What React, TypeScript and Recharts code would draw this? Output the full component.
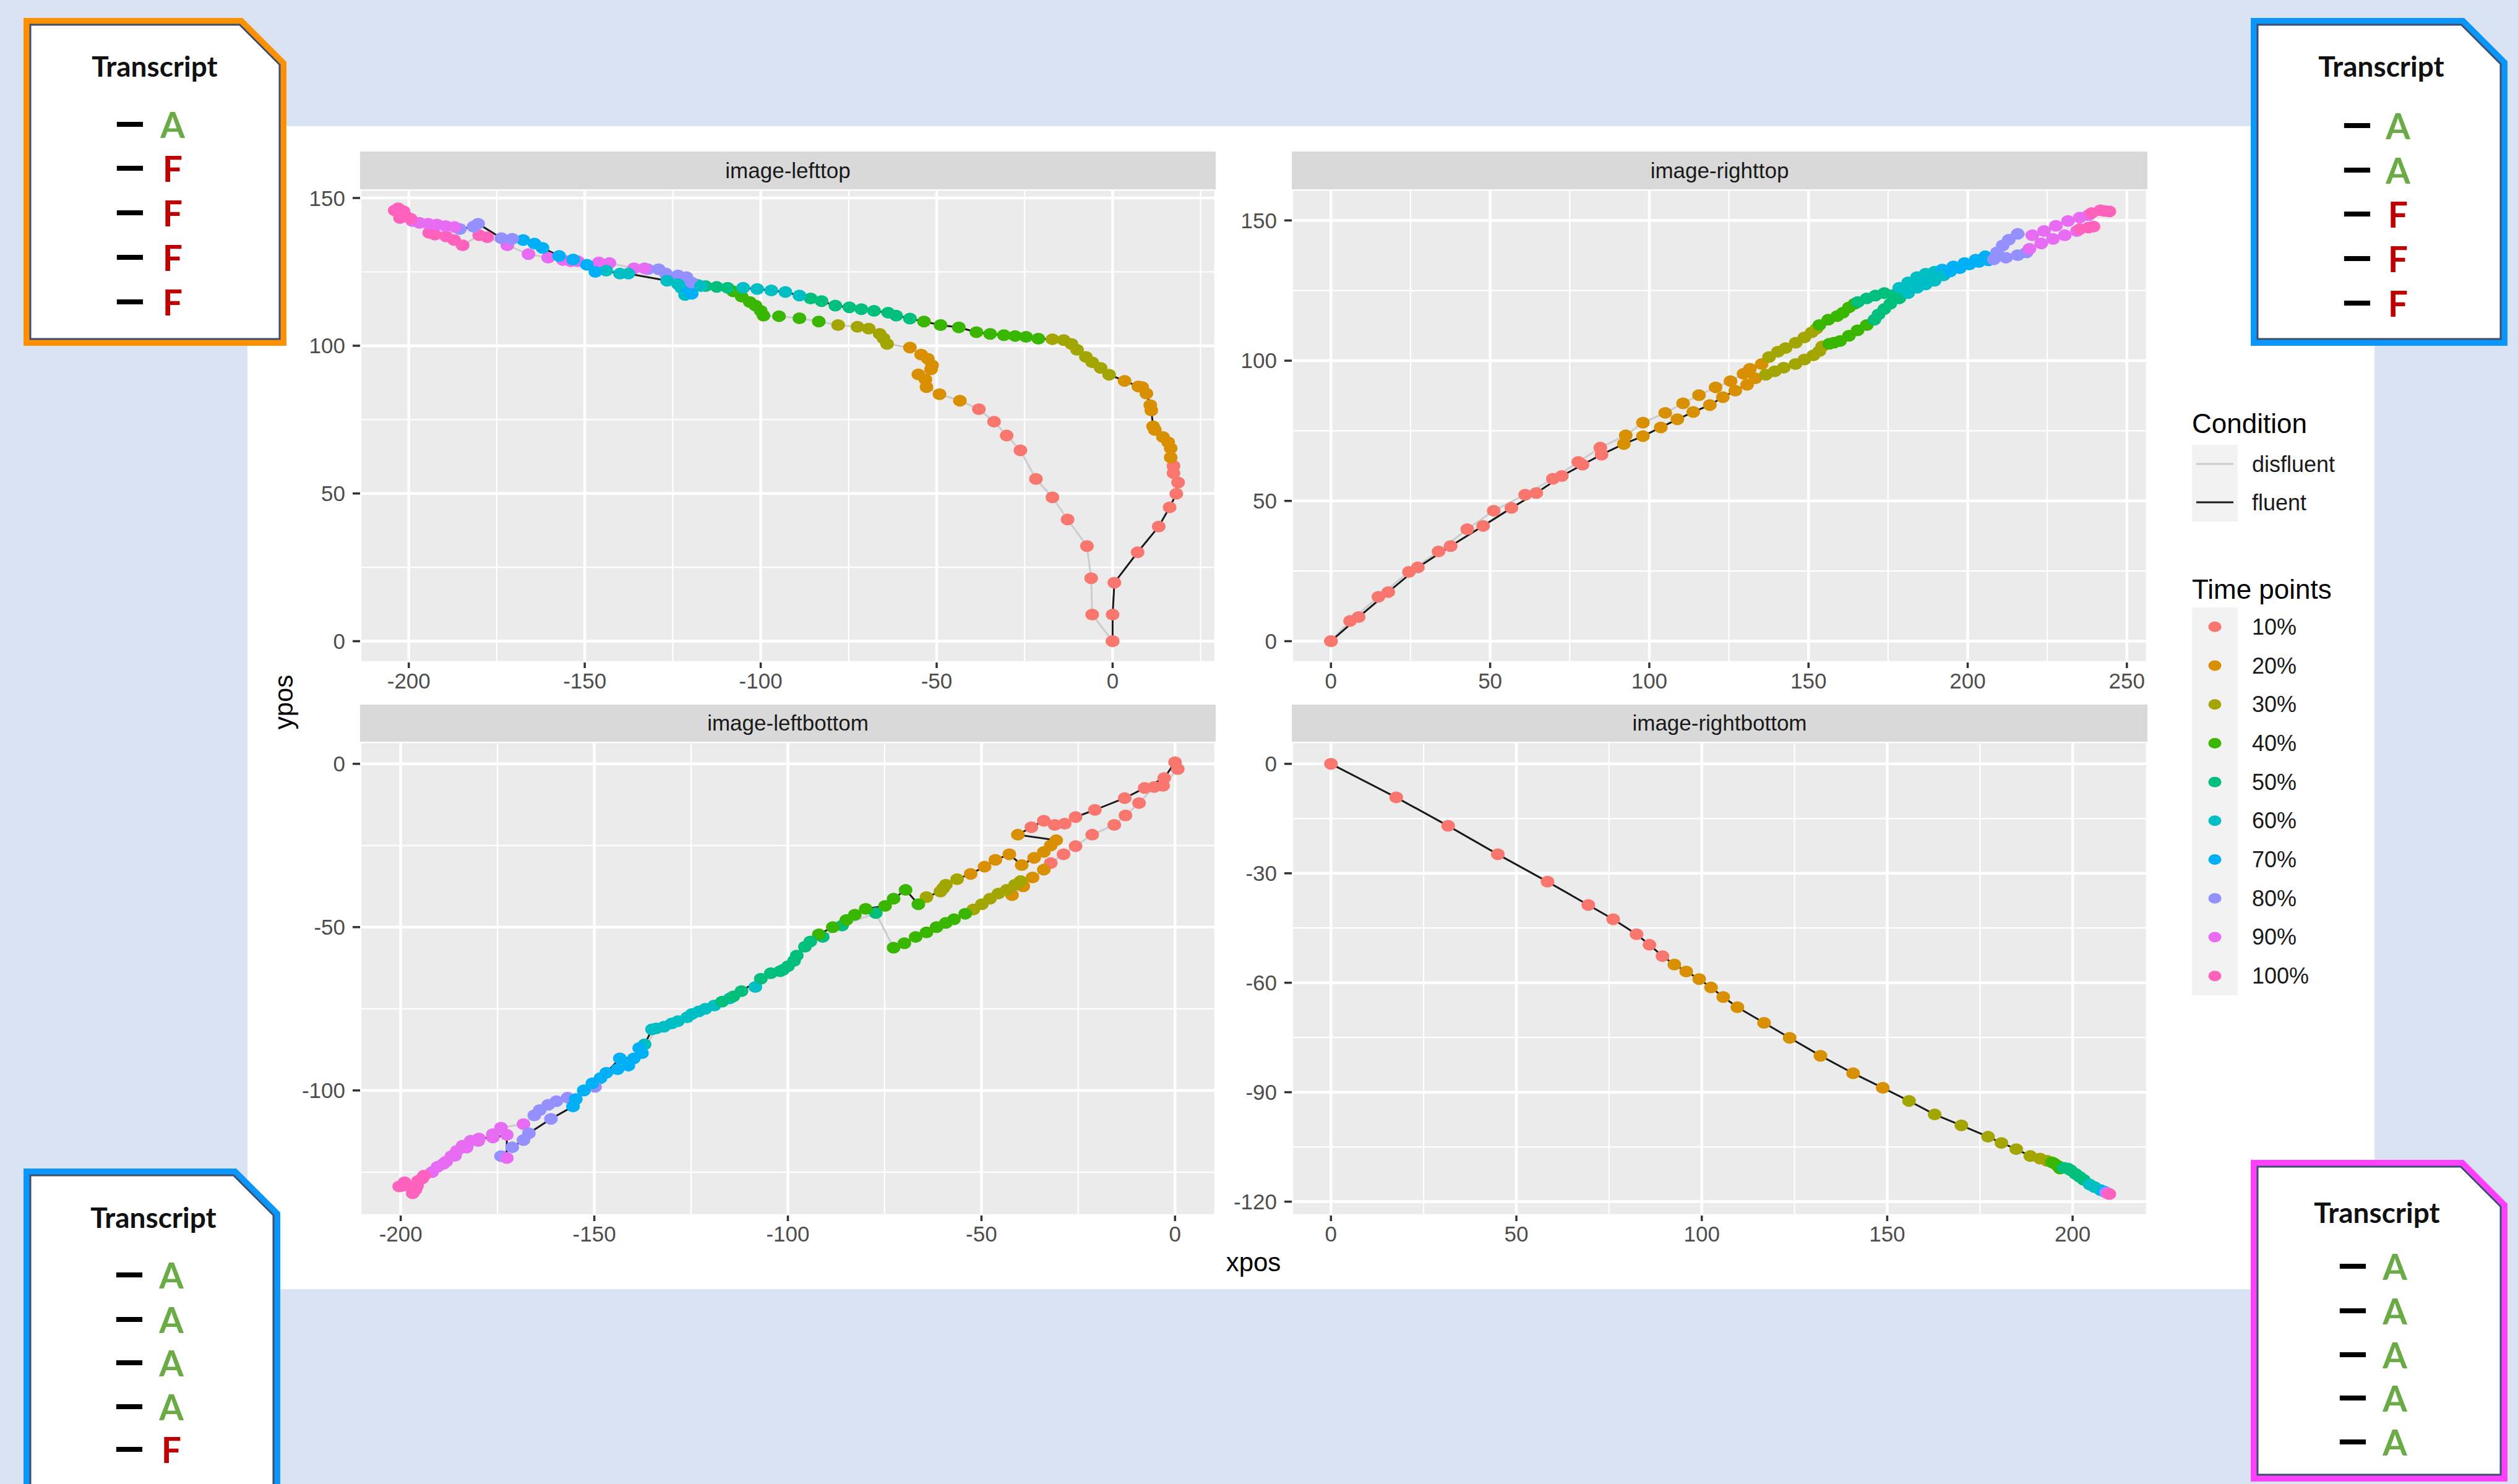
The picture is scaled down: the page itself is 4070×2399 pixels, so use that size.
import React from 'react';
import { ScatterChart, Scatter, XAxis, YAxis, CartesianGrid } from 'recharts';

type Pt = [number, number, number]; // x, y, time bin (1..10)

const FONT = '"Liberation Sans", Arial, Helvetica, sans-serif';
const HAND = 'Lato, "Noto Sans", sans-serif';

const TIME_LABELS = ['10%', '20%', '30%', '40%', '50%', '60%', '70%', '80%', '90%', '100%'];
const TIME_COLORS = ['#F8766D', '#D89000', '#A3A500', '#39B600', '#00BF7D', '#00BFC4', '#00B0F6', '#9590FF', '#E76BF3', '#FF62BC'];
const CONDITIONS = ['disfluent', 'fluent'];
const CONDITION_COLORS = ['#CCCCCC', '#1A1A1A'];

// ---- image-lefttop ----
const LT_X_TICKS = [-200, -150, -100, -50, 0];
const LT_X_MINOR = [-175, -125, -75, -25, 25];
const LT_Y_TICKS = [0, 50, 100, 150];
const LT_Y_MINOR = [25, 75, 125];
const LT_FLUENT: Pt[] = [
  [0, 0, 1], [0, 9, 1], [0.5, 19.8, 1], [7.1, 30.1, 1], [13.1, 38.8, 1], [16.2, 45.3, 1], [18.1, 49.9, 1], [18.6, 53.7, 1], [17.3, 56.9, 1], [17.3, 59.3, 1],
  [16.5, 62.2, 2], [16.5, 65.3, 2], [15.8, 67.3, 2], [14.3, 69.1, 2], [12, 71.5, 2], [11.5, 72.7, 2], [11, 78.1, 2], [10.7, 79.9, 2], [9.6, 83.8, 2], [8.4, 86, 2], [7.3, 86.2, 2], [3.4, 88.1, 2],
  [-1, 90.2, 3], [-3.4, 92.5, 3], [-5.8, 94.4, 3], [-7.6, 96.2, 3], [-10.1, 98.6, 3], [-11.7, 100.6, 3], [-13.9, 101.9, 3], [-17.1, 102.2, 3],
  [-21.1, 102.4, 4], [-24.6, 103, 4], [-27.7, 103.3, 4], [-30.9, 103.6, 4], [-34.8, 104, 4], [-38.7, 104.6, 4], [-43.7, 106.2, 4], [-48.9, 107, 4], [-53.6, 108.2, 4],
  [-57.6, 109.2, 5], [-61.5, 110.2, 5], [-63.8, 111.2, 5], [-67.8, 111.8, 5], [-71.4, 112.4, 5], [-74.8, 113, 5], [-78.8, 113.6, 5], [-82.7, 115.1, 5], [-85.8, 116, 5],
  [-89, 117, 6], [-93, 118.2, 6], [-97, 118.7, 6], [-101, 119.2, 6], [-105, 119.6, 6], [-117, 120.2, 6], [-123.5, 120.8, 6], [-126.6, 122, 6], [-137.6, 124.4, 6], [-140, 124.4, 6], [-143.9, 125.4, 6],
  [-147, 125, 7], [-149.4, 127.4, 7], [-153.3, 129.2, 7], [-157.3, 130.4, 7], [-162, 133.1, 7], [-164.3, 134.6, 7], [-167.5, 135.8, 7],
  [-170.6, 136.2, 8], [-173.7, 136.4, 8], [-180.3, 141.3, 8], [-181.6, 140.3, 8], [-185.5, 139.5, 8],
  [-187, 140.2, 9], [-189.5, 140.5, 9], [-192, 141, 9], [-194.5, 141.3, 9], [-197, 141.6, 9], [-199, 142.2, 9],
  [-199.5, 143, 10], [-201, 144, 10], [-203, 146.5, 10], [-204, 145.8, 10], [-202.5, 143.2, 10], [-201.5, 145.5, 10],
];
const LT_DISFLUENT: Pt[] = [
  [0, 0, 1], [-5.8, 9, 1], [-6.1, 21.3, 1], [-7.3, 32.2, 1], [-12.8, 41.2, 1], [-17.1, 48.7, 1], [-21.8, 54.9, 1], [-26.2, 64.6, 1], [-30.1, 69.6, 1], [-33.7, 74.3, 1], [-38, 78.5, 1],
  [-43.4, 81.4, 2], [-49.2, 83.6, 2], [-52.9, 86, 2], [-53.2, 88.6, 2], [-55.2, 90.3, 2], [-51.6, 92, 2], [-51.3, 93.4, 2], [-52.5, 95.6, 2], [-54.4, 97, 2], [-57.6, 99.4, 2],
  [-64.1, 100.6, 3], [-65.1, 102.5, 3], [-66.2, 104, 3], [-69.3, 105.8, 3], [-72.5, 106.4, 3], [-78, 107, 3],
  [-83.5, 108.2, 4], [-89, 109.3, 4], [-94.8, 110, 4], [-99.2, 110.2, 4], [-100, 111.8, 4], [-101.5, 113.6, 4], [-103.1, 114.8, 4], [-105.4, 116.6, 4], [-107.8, 118.4, 4],
  [-109.4, 119.6, 5], [-112.5, 119.9, 5], [-115.7, 120.2, 5], [-118, 120.6, 5], [-120.5, 121.5, 5],
  [-122.5, 119.5, 6], [-121, 118.2, 6], [-119.8, 117.6, 6], [-121.5, 117.2, 6],
  [-120.4, 118.4, 7], [-119.6, 117.6, 7], [-121, 119.6, 7], [-122, 120.5, 7],
  [-119.6, 121.4, 8], [-121.1, 123.2, 8], [-123.5, 123.8, 8], [-127, 124.5, 8], [-129, 125.9, 8], [-132.1, 125.9, 8],
  [-133, 126.2, 9], [-136, 126.2, 9], [-143, 128, 9], [-146, 128.2, 9], [-152, 128.6, 9], [-154, 128.6, 9], [-156.2, 129, 9], [-160.4, 129.8, 9], [-166, 131, 9], [-172, 134, 9],
  [-177.7, 136.7, 10], [-180, 137.4, 10], [-184.7, 134, 10], [-187.1, 135.8, 10], [-189.4, 137, 10], [-192.6, 137.6, 10], [-194.2, 138.2, 10],
];

// ---- image-righttop ----
const RT_X_TICKS = [0, 50, 100, 150, 200, 250];
const RT_X_MINOR = [25, 75, 125, 175, 225];
const RT_Y_TICKS = [0, 50, 100, 150];
const RT_Y_MINOR = [25, 75, 125];
const RT_FLUENT: Pt[] = [
  [0, 0, 1], [8.7, 8.6, 1], [18, 17.5, 1], [27.3, 26.3, 1], [37.6, 33.9, 1], [47.8, 41.1, 1], [56.7, 47.5, 1], [64.5, 52.8, 1], [72.5, 58.9, 1], [79, 62.9, 1], [85, 66.5, 1],
  [92, 70.3, 2], [98, 73.1, 2], [103.6, 76.2, 2], [108.8, 79.1, 2], [113.8, 81.7, 2], [119, 84.2, 2], [123.1, 87, 2], [127, 89.3, 2], [130.7, 91.4, 2], [133.3, 93.7, 2],
  [136.6, 95, 3], [139.4, 96.2, 3], [142.2, 97.5, 3], [145.9, 98.8, 3], [148.7, 100.4, 3], [151.5, 101.9, 3], [153.4, 103.4, 3], [154.3, 105.1, 3],
  [156.5, 106, 4], [158, 106.4, 4], [159.9, 107, 4], [162.7, 108.9, 4], [165.4, 110.8, 4], [168.3, 112.7, 4],
  [170.7, 114.6, 5], [172, 116.5, 5], [173.8, 118.4, 5], [175.7, 120.3, 5], [178.5, 122.2, 5],
  [181.3, 124.1, 6], [184.1, 126, 6], [186.8, 127.2, 6], [189.6, 128.5, 6], [192.4, 130.4, 6],
  [194.5, 131.8, 7], [197.5, 133, 7], [200.5, 134.3, 7], [203.5, 135.2, 7], [206.5, 135.8, 7],
  [208.2, 136.1, 8], [212, 136.7, 8], [215.7, 137.6, 8], [218.5, 138.6, 8],
  [219.4, 139.9, 9], [223.1, 141.8, 9], [226.8, 143.4, 9], [230.5, 144.7, 9], [234.3, 146.2, 9],
  [235.2, 146.9, 10], [238, 147.5, 10], [239.5, 147.8, 10],
];
const RT_DISFLUENT: Pt[] = [
  [0, 0, 1], [6, 7.2, 1], [14.9, 15.8, 1], [24.5, 24.7, 1], [33.8, 32, 1], [42.8, 39.9, 1], [51.1, 46.5, 1], [61, 52.2, 1], [69.7, 57.9, 1], [77.7, 63.9, 1], [84.6, 69, 1],
  [92.6, 73.4, 2], [98, 77.9, 2], [105, 81.4, 2], [110.6, 84.8, 2], [115.6, 87.7, 2], [120.8, 90.5, 2], [125.5, 92.7, 2], [129.6, 95.3, 2], [131.6, 97.1, 2], [135.3, 98.8, 2],
  [137.6, 101.3, 3], [140.4, 103.2, 3], [142.8, 104.5, 3], [146, 106.4, 3], [148.7, 108.3, 3], [151, 110.1, 3], [152.5, 111.4, 3],
  [153.4, 112.7, 4], [156.2, 114.6, 4], [159, 115.9, 4], [160.8, 117.1, 4], [162.7, 119, 4], [164.5, 120.3, 4],
  [165.5, 120.9, 5], [168.3, 122.2, 5], [171, 123.2, 5], [173.8, 124.1, 5], [176.6, 123.4, 5],
  [178.5, 126, 6], [181.3, 127.9, 6], [184.1, 129.8, 6], [186.8, 131, 6], [189.6, 131.7, 6],
  [192, 132.5, 7], [195.5, 133.6, 7], [199, 134.8, 7], [202.5, 136, 7], [205.5, 137.2, 7],
  [209.2, 138.6, 8], [211, 141.1, 8], [212.9, 143.1, 8], [215.7, 145.2, 8],
  [220.3, 144.7, 9], [224, 146.2, 9], [227.7, 148.1, 9], [231.5, 149.8, 9], [235.2, 151, 9], [238, 151.9, 9],
  [238.9, 152.6, 10], [241.7, 153.6, 10], [243, 153.4, 10], [244.5, 153.2, 10],
];

// ---- image-leftbottom ----
const LB_X_TICKS = [-200, -150, -100, -50, 0];
const LB_X_MINOR = [-175, -125, -75, -25];
const LB_Y_TICKS = [-100, -50, 0];
const LB_Y_MINOR = [-125, -75, -25];
const LB_FLUENT: Pt[] = [
  [0, 0.5, 1], [-2.8, -4.35, 1], [-7.85, -7.4, 1], [-13, -10.5, 1], [-20.7, -14.1, 1], [-25.7, -16.3, 1], [-28.5, -18.3, 1], [-31.1, -18.7, 1], [-33.9, -17.4, 1], [-37.1, -19.4, 1],
  [-40.6, -21.7, 2], [-30.7, -23.4, 2], [-32.1, -25, 2], [-33.9, -27, 2], [-36.4, -28.8, 2], [-39.6, -31, 2], [-42.8, -27.7, 2], [-46.4, -29.4, 2], [-49.2, -31.5, 2], [-52.8, -33.7, 2],
  [-56.3, -35.3, 3], [-59.2, -37, 3], [-59.9, -38.1, 3], [-60.6, -39.1, 3], [-64.2, -40.8, 3],
  [-66.3, -43, 4], [-69.6, -38.6, 4], [-72.7, -41.3, 4], [-74.9, -43.5, 4], [-79.9, -44.4, 4], [-82.7, -46.2, 4], [-84.9, -47.8, 4], [-88.4, -50, 4], [-92, -52.2, 4],
  [-94.2, -54.4, 5], [-97.7, -58.7, 5], [-101.3, -63.1, 5], [-104.4, -64.1, 5], [-107, -65.8, 5], [-112, -69.6, 5], [-114.1, -71.2, 5], [-117, -72.8, 5],
  [-121.3, -75, 6], [-124.8, -76.6, 6], [-128.4, -78.8, 6], [-132, -80.5, 6], [-135.1, -81.3, 6], [-137, -85.9, 6],
  [-138.4, -87, 7], [-139.8, -90.2, 7], [-143.4, -90.2, 7], [-146.9, -94.6, 7], [-150.5, -97.8, 7], [-152.7, -100, 7], [-154.8, -102.7, 7], [-155.5, -104.9, 7],
  [-161.2, -108.7, 8], [-166.9, -113.1, 8], [-168.3, -115.2, 8], [-171.2, -117.4, 8], [-174.1, -120.1, 8],
  [-172.6, -120.7, 9], [-172.6, -113.6, 9], [-176.2, -114.4, 9], [-179.8, -114.7, 9], [-181.9, -115.4, 9], [-184, -116.9, 9], [-185.5, -118.5, 9], [-186.9, -120.1, 9], [-188.3, -121.8, 9], [-190.5, -123.4, 9],
  [-194, -126.1, 10], [-195.5, -127.7, 10], [-197.6, -129.4, 10], [-199.7, -129.2, 10], [-200.4, -129.4, 10], [-199, -128.1, 10],
];
const LB_DISFLUENT: Pt[] = [
  [0.7, -1.6, 1], [-3.1, -6.7, 1], [-5.4, -7.1, 1], [-9.3, -12, 1], [-12.8, -15.8, 1], [-15.7, -18.7, 1], [-21.4, -21.7, 1], [-25.7, -25.2, 1], [-28.8, -27.7, 1], [-32.1, -30.4, 1],
  [-33.9, -32.4, 2], [-36.8, -34.8, 2], [-39.2, -37.5, 2], [-42.1, -40.2, 2],
  [-39.9, -35.9, 3], [-41.3, -37, 3], [-43.5, -38.6, 3], [-45.6, -39.7, 3], [-47.8, -41.3, 3], [-49.9, -43, 3], [-52.1, -44.6, 3],
  [-54.2, -45.9, 4], [-57.1, -47.6, 4], [-59.2, -48.7, 4], [-61.6, -50, 4], [-64.2, -51.6, 4], [-67, -53, 4], [-69.9, -54.9, 4], [-72.7, -56.3, 4],
  [-77.3, -45.7, 5], [-86, -49.5, 5], [-91, -53, 5], [-95.6, -56, 5], [-98.4, -60.3, 5], [-100, -62, 5], [-102, -63.5, 5],
  [-108.4, -68.3, 6], [-115, -71.8, 6], [-119, -74, 6], [-123, -75.8, 6], [-126, -77.6, 6], [-130, -79.5, 6], [-134, -81, 6],
  [-137.7, -88.6, 7], [-141.2, -92.4, 7], [-144, -93.5, 7], [-148.4, -96.2, 7], [-152.7, -100, 7], [-154.8, -102.7, 7],
  [-149.8, -98.9, 8], [-156.9, -102.2, 8], [-159.8, -103.3, 8], [-161.9, -104.4, 8], [-164.1, -106, 8], [-165.5, -107.6, 8],
  [-168.3, -110.3, 9], [-174.1, -111.4, 9], [-176.2, -113.4, 9], [-180, -115.5, 9], [-183, -117.5, 9], [-186, -120, 9], [-189, -122.5, 9], [-191.9, -125, 9],
  [-194.5, -127, 10], [-196.2, -130.4, 10], [-196.9, -131.5, 10], [-195.8, -129.2, 10],
];

// ---- image-rightbottom ----
const RB_X_TICKS = [0, 50, 100, 150, 200];
const RB_X_MINOR = [25, 75, 125, 175];
const RB_Y_TICKS = [-120, -90, -60, -30, 0];
const RB_Y_MINOR = [-105, -75, -45, -15];
const RB_FLUENT: Pt[] = [
  [0, 0, 1], [17.6, -9.2, 1], [31.6, -17, 1], [45, -24.8, 1], [58.4, -32.3, 1], [69.4, -38.7, 1], [76.1, -42.6, 1], [82.4, -46.7, 1], [85.9, -49.6, 1], [89.4, -52.7, 1],
  [92.6, -55, 2], [95.8, -56.9, 2], [99.3, -59, 2], [102.5, -61.3, 2], [105.8, -63.9, 2], [109.6, -66.7, 2], [116.8, -71, 2], [123.7, -75.1, 2], [132, -80, 2], [140.8, -84.8, 2], [148.8, -88.8, 2],
  [155.9, -92.4, 3], [162.8, -96.1, 3], [170, -99.1, 3], [177.2, -102.2, 3], [180.8, -103.9, 3], [184.8, -105.6, 3], [188.6, -107.5, 3], [191.2, -108.2, 3], [193.1, -108.8, 3],
  [194.4, -109.2, 4], [195, -109.5, 4], [196, -110.2, 4], [196.6, -110.9, 4],
  [197.6, -110.7, 5], [198.7, -110.9, 5], [199.5, -111.4, 5], [200.8, -112.4, 5], [201.9, -113.2, 5], [203, -114, 5],
  [204.6, -115.3, 6], [205.9, -116, 6], [207.5, -116.8, 6],
  [208.5, -117.2, 7], [209, -117.5, 8], [209.5, -117.7, 9], [209.9, -117.9, 10],
];
const RB_DISFLUENT: Pt[] = [];

const XH = 72;
const TOP_PAD = 24;

const PANELS = [
  { label: 'image-lefttop', left: 582, top: 306, stripTop: 245, w: 1383, h: 765, yw: 170,
    xDomain: [-213.85, 29.29], yDomain: [-7.22, 152.95], xTicks: LT_X_TICKS, xMinor: LT_X_MINOR, yTicks: LT_Y_TICKS, yMinor: LT_Y_MINOR,
    fluent: LT_FLUENT, disfluent: LT_DISFLUENT },
  { label: 'image-righttop', left: 2088, top: 306, stripTop: 245, w: 1383, h: 765, yw: 120,
    xDomain: [-12.3, 256.45], yDomain: [-7.61, 161.1], xTicks: RT_X_TICKS, xMinor: RT_X_MINOR, yTicks: RT_Y_TICKS, yMinor: RT_Y_MINOR,
    fluent: RT_FLUENT, disfluent: RT_DISFLUENT },
  { label: 'image-leftbottom', left: 582, top: 1199, stripTop: 1139, w: 1383, h: 766, yw: 170,
    xDomain: [-210.5, 10.5], yDomain: [-138.3, 6.78], xTicks: LB_X_TICKS, xMinor: LB_X_MINOR, yTicks: LB_Y_TICKS, yMinor: LB_Y_MINOR,
    fluent: LB_FLUENT, disfluent: LB_DISFLUENT },
  { label: 'image-rightbottom', left: 2088, top: 1199, stripTop: 1139, w: 1383, h: 766, yw: 120,
    xDomain: [-10.56, 220.17], yDomain: [-123.8, 6.07], xTicks: RB_X_TICKS, xMinor: RB_X_MINOR, yTicks: RB_Y_TICKS, yMinor: RB_Y_MINOR,
    fluent: RB_FLUENT, disfluent: RB_DISFLUENT },
];

const toRows = (pts: Pt[]) => pts.map(([x, y, t]) => ({ x, y, t }));

const noDot = () => <g />;
const timeDot = (p: any) => (
  <ellipse cx={p.cx} cy={p.cy} rx={11} ry={9.5} fill={TIME_COLORS[p.payload.t - 1]} />
);

const tickStyle = { fill: '#4D4D4D', fontSize: 35, fontFamily: FONT };

function Panel(p: any) {
  const dis = toRows(p.disfluent);
  const flu = toRows(p.fluent);
  return (
    <>
      <div style={{ position: 'absolute', left: p.left - p.yw, top: p.top - TOP_PAD }}>
        <ScatterChart width={p.w + p.yw} height={p.h + XH + TOP_PAD} margin={{ top: TOP_PAD, right: 0, bottom: 0, left: 0 }}>
          <XAxis xAxisId="minor" type="number" dataKey="x" domain={p.xDomain} ticks={p.xMinor} allowDataOverflow hide />
          <YAxis yAxisId="minor" type="number" dataKey="y" domain={p.yDomain} ticks={p.yMinor} allowDataOverflow hide />
          <CartesianGrid xAxisId="minor" yAxisId="minor" fill="#EBEBEB" fillOpacity={1} stroke="#FFFFFF" strokeWidth={2.2} />
          <XAxis
            type="number" dataKey="x" domain={p.xDomain} ticks={p.xTicks} interval={0} allowDataOverflow
            axisLine={false} tickSize={9} tickMargin={8} height={XH}
            tickLine={{ stroke: '#333333', strokeWidth: 3.5 }} tick={tickStyle}
          />
          <YAxis
            type="number" dataKey="y" domain={p.yDomain} ticks={p.yTicks} interval={0} allowDataOverflow
            axisLine={false} tickSize={12} tickMargin={12} width={p.yw}
            tickLine={{ stroke: '#333333', strokeWidth: 3.5 }} tick={tickStyle}
          />
          <CartesianGrid stroke="#FFFFFF" strokeWidth={4.5} fill="none" />
          {dis.length > 0 && (
            <Scatter data={dis} shape={noDot} isAnimationActive={false}
              line={{ stroke: CONDITION_COLORS[0], strokeWidth: 3 }} lineJointType="linear" />
          )}
          <Scatter data={flu} shape={noDot} isAnimationActive={false}
            line={{ stroke: CONDITION_COLORS[1], strokeWidth: 3 }} lineJointType="linear" />
          {dis.length > 0 && <Scatter data={dis} shape={timeDot} isAnimationActive={false} />}
          <Scatter data={flu} shape={timeDot} isAnimationActive={false} />
        </ScatterChart>
      </div>
      <div
        style={{
          position: 'absolute', left: p.left, top: p.stripTop, width: p.w, height: p.top - p.stripTop,
          background: '#D9D9D9', color: '#1A1A1A', fontSize: 35, lineHeight: `${p.top - p.stripTop}px`,
          textAlign: 'center', fontFamily: FONT,
        }}
      >
        {p.label}
      </div>
    </>
  );
}

const CARDS = [
  { x0: 38, y0: 29, x1: 463, y1: 559, cut: 71, color: '#FF9000', cx: 250, titleY: 124, dashX: 210, letterX: 279,
    rows: [203, 274, 346, 418, 490], marks: ['A', 'F', 'F', 'F', 'F'] },
  { x0: 3638, y0: 29, x1: 4053, y1: 559, cut: 70, color: '#0A96FA', cx: 3849, titleY: 124, dashX: 3810, letterX: 3876,
    rows: [205, 277, 348, 420, 492], marks: ['A', 'A', 'F', 'F', 'F'] },
  { x0: 38, y0: 1889, x1: 453, y1: 2430, cut: 71, color: '#0A96FA', cx: 248, titleY: 1985, dashX: 209, letterX: 277,
    rows: [2063, 2135, 2205, 2276, 2345], marks: ['A', 'A', 'A', 'A', 'F'] },
  { x0: 3638, y0: 1875, x1: 4053, y1: 2395, cut: 71, color: '#FF40FF', cx: 3842, titleY: 1977, dashX: 3803, letterX: 3871,
    rows: [2049, 2121, 2192, 2262, 2333], marks: ['A', 'A', 'A', 'A', 'A'] },
];

function Card(c: any) {
  const i = 11;
  const d = i * Math.SQRT2;
  const diag = c.x1 - c.cut - c.y0;
  const outer = `${c.x0},${c.y0} ${c.x1 - c.cut},${c.y0} ${c.x1},${c.y0 + c.cut} ${c.x1},${c.y1} ${c.x0},${c.y1}`;
  const inner = `${c.x0 + i},${c.y0 + i} ${diag - d + c.y0 + i},${c.y0 + i} ${c.x1 - i},${c.x1 - i - diag + d} ${c.x1 - i},${c.y1 - i} ${c.x0 + i},${c.y1 - i}`;
  return (
    <g>
      <polygon points={outer} fill={c.color} />
      <polygon points={inner} fill="#FFFFFF" stroke="#3D4F6E" strokeWidth={3} />
      <text x={c.cx} y={c.titleY} textAnchor="middle" fontFamily={HAND} fontWeight={700} fontSize={46} fill="#111">
        Transcript
      </text>
      {c.rows.map((ry: number, k: number) => (
        <g key={k}>
          <text x={c.dashX} y={ry + 12} textAnchor="middle" fontFamily={HAND} fontWeight={700} fontSize={46}
            textLength={44} lengthAdjust="spacingAndGlyphs" fill="#000" stroke="#000" strokeWidth={4}>
            —
          </text>
          <text x={c.letterX} y={ry + 20} textAnchor="middle" fontFamily={HAND} fontWeight={700} fontSize={57}
            fill={c.marks[k] === 'A' ? '#6AAB46' : '#BE0000'}>
            {c.marks[k]}
          </text>
        </g>
      ))}
    </g>
  );
}

function Legend() {
  const x = 3543;
  const keyW = 74;
  const condTop = 719;
  const condH = 62;
  const timeTop = 982;
  const timeH = 62.7;
  return (
    <g fontFamily={FONT}>
      <text x={x} y={700} fontSize={44} fill="#000">Condition</text>
      <rect x={x} y={condTop} width={keyW} height={condH * CONDITIONS.length} fill="#F2F2F2" />
      {CONDITIONS.map((c, k) => (
        <g key={c}>
          <line x1={x + 7} x2={x + keyW - 7} y1={condTop + condH * (k + 0.5)} y2={condTop + condH * (k + 0.5)}
            stroke={CONDITION_COLORS[k]} strokeWidth={3} />
          <text x={x + 97} y={condTop + condH * (k + 0.5)} dominantBaseline="central" fontSize={36} fill="#1A1A1A">{c}</text>
        </g>
      ))}
      <text x={x} y={968} fontSize={44} fill="#000">Time points</text>
      <rect x={x} y={timeTop} width={keyW} height={timeH * TIME_LABELS.length} fill="#F2F2F2" />
      {TIME_LABELS.map((t, k) => (
        <g key={t}>
          <ellipse cx={x + 37} cy={timeTop + timeH * (k + 0.5)} rx={10.5} ry={8.5} fill={TIME_COLORS[k]} />
          <text x={x + 97} y={timeTop + timeH * (k + 0.5)} dominantBaseline="central" fontSize={36} fill="#1A1A1A">{t}</text>
        </g>
      ))}
    </g>
  );
}

export default function App() {
  return (
    <div style={{ position: 'absolute', left: 0, top: 0, width: 4070, height: 2399, background: '#DAE3F3', overflow: 'hidden', fontFamily: FONT }}>
      <div style={{ position: 'absolute', left: 400, top: 204, width: 3438, height: 1880, background: '#FFFFFF' }} />
      {PANELS.map((p) => (
        <Panel key={p.label} {...p} />
      ))}
      <svg style={{ position: 'absolute', left: 0, top: 0, pointerEvents: 'none' }} width={4070} height={2399}>
        <text x={2026} y={2040} textAnchor="middle" dominantBaseline="central" fontFamily={FONT} fontSize={42} fill="#000">xpos</text>
        <text x={458} y={1135} textAnchor="middle" dominantBaseline="central" fontFamily={FONT} fontSize={42} fill="#000"
          transform="rotate(-90 458 1135)">ypos</text>
        <Legend />
        {CARDS.map((c, k) => (
          <Card key={k} {...c} />
        ))}
      </svg>
    </div>
  );
}
